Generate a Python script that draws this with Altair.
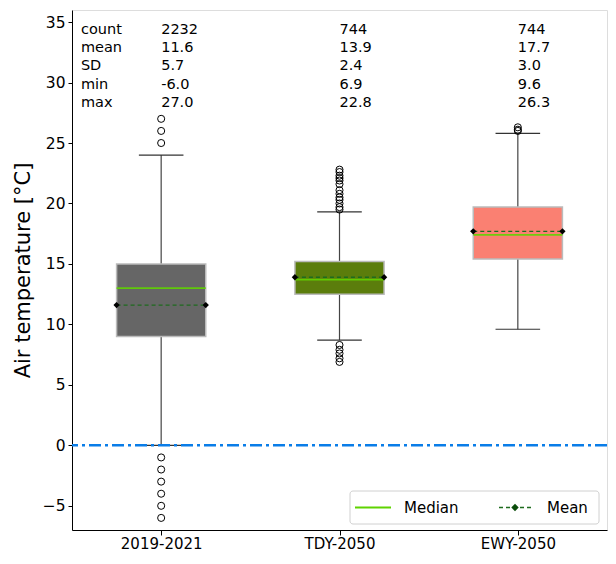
import altair as alt
import pandas as pd

cats = ["2019-2021", "TDY-2050", "EWY-2050"]
pos = [1, 2, 3]
q1 = [9.0, 12.5, 15.4]
q3 = [15.0, 15.2, 19.7]
med = [13.0, 13.7, 17.4]
mean = [11.6, 13.9, 17.7]
wlo = [0.0, 8.7, 9.6]
whi = [24.0, 19.3, 25.8]
fills = ["#666666", "#5b7d0c", "#fa8072"]

counts = ["2232", "744", "744"]
means_txt = ["11.6", "13.9", "17.7"]
sds = ["5.7", "2.4", "3.0"]
mins = ["-6.0", "6.9", "9.6"]
maxs = ["27.0", "22.8", "26.3"]
stat_names = ["count", "mean", "SD", "min", "max"]

out_1 = [25, 26, 27, -1, -2, -3, -4, -5, -6]
out_2 = [22.8, 22.6, 22.3, 22.1, 21.9, 21.6, 21.1, 20.8, 20.5, 20.3, 20.0, 19.7, 19.5,
         8.3, 7.9, 7.6, 7.2, 6.9]
out_3 = [26.3, 26.1, 26.0]

HW = 0.25
CW = 0.125
H = 520
W = 535

box = pd.DataFrame({
    "cat": cats, "pos": pos, "q1": q1, "q3": q3, "med": med, "mean": mean,
    "wlo": wlo, "whi": whi, "fill": fills,
})
box["l"] = box["pos"] - HW
box["r"] = box["pos"] + HW
box["cl"] = box["pos"] - CW
box["cr"] = box["pos"] + CW

outs = pd.DataFrame({
    "pos": [1] * len(out_1) + [2] * len(out_2) + [3] * len(out_3),
    "v": out_1 + out_2 + out_3,
})

diam = pd.DataFrame({
    "x": list(box["l"]) + list(box["r"]),
    "mean": mean + mean,
})

FONT = "DejaVu Sans"
xs = alt.Scale(domain=[0.5, 3.5], nice=False, zero=False)
ys = alt.Scale(domain=[-7, 36], nice=False, zero=False)

label_expr = "datum.value == 1 ? '2019-2021' : datum.value == 2 ? 'TDY-2050' : 'EWY-2050'"
xax = alt.Axis(values=[1, 2, 3], labelExpr=label_expr, title=None, grid=False,
               labelFontSize=15, labelFont=FONT, tickColor="black", tickSize=5,
               domainColor="black", labelColor="black", labelPadding=1)
yax = alt.Axis(values=[-5, 0, 5, 10, 15, 20, 25, 30, 35], title="Air temperature [°C]",
               grid=False, labelFontSize=15.5, labelFont=FONT, titleFont=FONT,
               titleFontSize=21, titleFontWeight="normal", tickColor="black",
               tickSize=4, domainColor="black", labelColor="black",
               titleColor="black", titlePadding=9, labelPadding=3)

base = alt.Chart(box)

whisk = base.mark_rule(color="#444444", strokeWidth=1.2).encode(
    x=alt.X("pos:Q", scale=xs, axis=xax),
    y=alt.Y("wlo:Q", scale=ys, axis=yax),
    y2="whi:Q",
)
caps_lo = base.mark_rule(color="#333333", strokeWidth=1.2).encode(
    x=alt.X("cl:Q", scale=xs), x2="cr:Q", y=alt.Y("wlo:Q", scale=ys))
caps_hi = base.mark_rule(color="#333333", strokeWidth=1.2).encode(
    x=alt.X("cl:Q", scale=xs), x2="cr:Q", y=alt.Y("whi:Q", scale=ys))

zero = alt.Chart(pd.DataFrame({"z": [0]})).mark_rule(
    color="#0a7de8", strokeWidth=2.5, strokeDash=[12, 4, 3, 4]
).encode(y=alt.Y("z:Q", scale=ys))

rect = base.mark_rect(stroke="#bbbbbb", strokeWidth=1.5).encode(
    x=alt.X("l:Q", scale=xs), x2="r:Q",
    y=alt.Y("q1:Q", scale=ys), y2="q3:Q",
    fill=alt.Fill("fill:N", scale=None),
)
medl = base.mark_rule(color="#5fd300", strokeWidth=1.8, opacity=0.9).encode(
    x=alt.X("l:Q", scale=xs), x2="r:Q", y=alt.Y("med:Q", scale=ys))
meanl = base.mark_rule(color="#1e6b1e", strokeWidth=1.3, strokeDash=[4, 3]).encode(
    x=alt.X("l:Q", scale=xs), x2="r:Q", y=alt.Y("mean:Q", scale=ys))
dm = alt.Chart(diam).mark_point(shape="diamond", filled=True, color="black",
                                size=40, opacity=1).encode(
    x=alt.X("x:Q", scale=xs), y=alt.Y("mean:Q", scale=ys))

pts = alt.Chart(outs).mark_point(shape="circle", filled=False, color="black",
                                 size=50, strokeWidth=1, opacity=1).encode(
    x=alt.X("pos:Q", scale=xs), y=alt.Y("v:Q", scale=ys))

# stats text
rows_y = [20, 38, 56, 75, 93]
name_df = pd.DataFrame({"t": stat_names, "yy": rows_y, "x": [0.55] * 5})
names = alt.Chart(name_df).mark_text(align="left", baseline="middle", font=FONT,
                                     fontSize=14.5, color="black").encode(
    x=alt.X("x:Q", scale=xs), y=alt.Y("yy:Q", scale=None), text="t:N")
vals = []
for i in range(3):
    col = [counts[i], means_txt[i], sds[i], mins[i], maxs[i]]
    vals += [{"t": c, "yy": rows_y[j], "x": pos[i]} for j, c in enumerate(col)]
vals_df = pd.DataFrame(vals)
valt = alt.Chart(vals_df).mark_text(align="left", baseline="middle", font=FONT,
                                    fontSize=14.5, color="black").encode(
    x=alt.X("x:Q", scale=xs), y=alt.Y("yy:Q", scale=None), text="t:N")

# legend (pixel positions inside plot area)
one = pd.DataFrame({"a": [0]})
ly2 = H - 6
ly1 = ly2 - 33
lc = (ly1 + ly2) / 2
lx2 = W - 8
lx1 = lx2 - 249
leg_box = alt.Chart(one).mark_rect(fill="white", stroke="#cccccc", strokeWidth=1,
                                   cornerRadius=3, opacity=0.9).encode(
    x=alt.value(lx1), x2=alt.value(lx2), y=alt.value(ly1), y2=alt.value(ly2))
leg_med = alt.Chart(one).mark_rule(color="#5fd300", strokeWidth=1.8).encode(
    x=alt.value(lx1 + 5), x2=alt.value(lx1 + 41), y=alt.value(lc))
leg_mean = alt.Chart(one).mark_rule(color="#1e6b1e", strokeWidth=1.3, strokeDash=[4, 3]).encode(
    x=alt.value(lx1 + 149), x2=alt.value(lx1 + 184), y=alt.value(lc))
leg_dm = alt.Chart(one).mark_point(shape="diamond", filled=True, color="#0b4d0b",
                                   size=55, opacity=1).encode(
    x=alt.value(lx1 + 165), y=alt.value(lc))
leg_txt = alt.Chart(pd.DataFrame({"t": ["Median", "Mean"],
                                  "px": [lx1 + 54, lx1 + 197]})).mark_text(
    align="left", baseline="middle", font=FONT, fontSize=15, color="black").encode(
    x=alt.X("px:Q", scale=None), y=alt.value(lc), text="t:N")

chart = alt.layer(
    whisk, caps_lo, caps_hi, zero, rect, medl, meanl, dm, pts, names, valt,
    leg_box, leg_med, leg_mean, leg_dm, leg_txt
).properties(
    width=W, height=H,
    autosize=alt.AutoSizeParams(type="none"),
    padding={"left": 64, "top": 2, "right": 1, "bottom": 21},
).configure_view(stroke="black", strokeWidth=1).configure(background="white")

chart.save("out.html", embed_options={"renderer": "svg", "actions": False})
